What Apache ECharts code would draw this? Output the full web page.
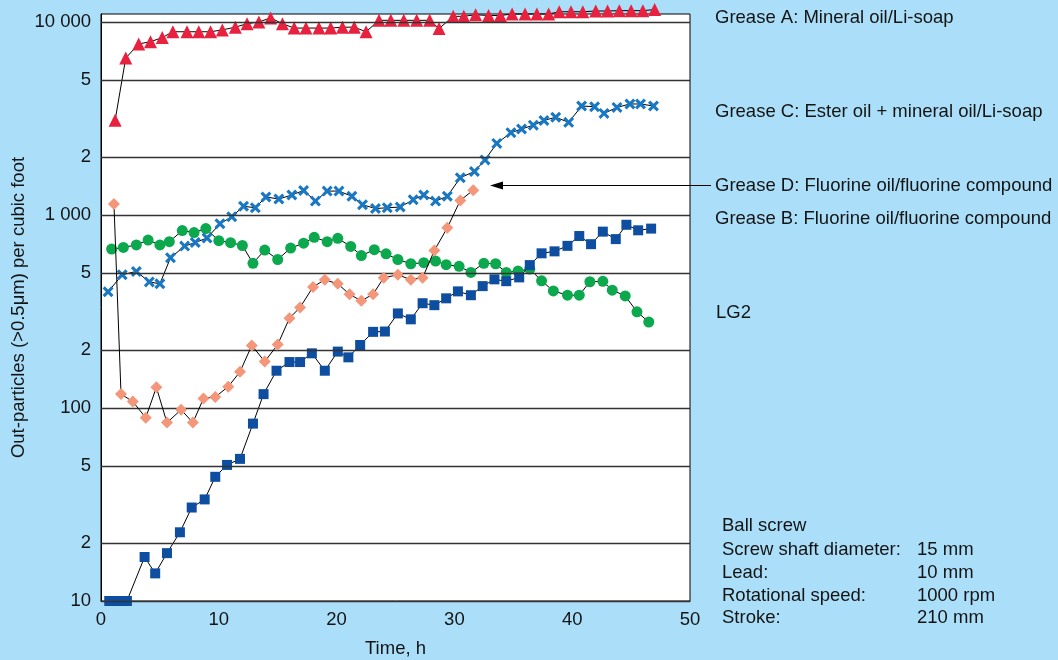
<!DOCTYPE html>
<html><head><meta charset="utf-8">
<script src="https://cdn.jsdelivr.net/npm/echarts@6/dist/echarts.min.js"></script>
<style>html,body{margin:0;padding:0;background:#abdff9;}#c{width:1058px;height:660px;}</style>
</head><body><div id="c"></div>
<script>
// Grease A: Mineral oil/Li-soap
const tA = [1.2,2.1,3.2,4.2,5.2,6.1,7.3,8.3,9.3,10.3,11.4,12.4,13.4,14.4,15.4,16.4,17.4,18.5,19.5,20.5,21.5,22.5,23.6,24.6,25.7,26.8,27.9,28.7,29.9,30.8,31.8,32.9,33.9,34.9,36.0,37.0,38.0,38.9,39.9,40.9,42.0,43.0,44.0,45.0,46.0,47.0];
const vA = [3100,6500,7700,7900,8300,8900,8900,8900,8900,9100,9400,9800,10000,10500,9800,9300,9300,9300,9300,9400,9400,8900,10200,10200,10200,10200,10200,9250,10700,10700,10900,10800,10800,11000,11000,11000,11000,11300,11300,11300,11400,11400,11450,11450,11450,11600];
// Grease C: Ester oil + mineral oil/Li-soap
const tC = [0.6,1.8,3.0,4.1,5.0,5.9,7.1,8.0,9.0,10.1,11.1,12.1,13.1,14.0,15.1,16.2,17.2,18.2,19.2,20.2,21.3,22.2,23.3,24.3,25.4,26.5,27.4,28.4,29.4,30.5,31.7,32.6,33.6,34.8,35.7,36.7,37.6,38.6,39.7,40.8,41.9,42.7,43.8,44.9,45.8,46.9];
const vC = [400,490,510,450,440,600,690,720,760,900,980,1110,1090,1240,1210,1270,1340,1180,1330,1330,1250,1130,1080,1090,1100,1200,1270,1180,1250,1560,1680,1930,2350,2670,2790,2920,3090,3210,3020,3670,3640,3360,3610,3760,3760,3670];
// Grease D: Fluorine oil/fluorine compound
const tD = [1.1,1.7,2.7,3.8,4.7,5.6,6.8,7.8,8.7,9.7,10.8,11.8,12.8,13.9,15.0,16.0,16.9,18.0,19.0,20.1,21.1,22.1,23.1,24.0,25.2,26.3,27.3,28.3,29.4,30.5,31.6];
const vD = [1140,118,108,89,128,84,98,84,112,114,129,154,211,174,213,292,332,424,462,440,388,359,389,473,490,462,473,655,859,1190,1345];
// Grease B: Fluorine oil/fluorine compound
const tB = [0.9,1.9,3.0,4.0,5.0,5.8,6.9,7.9,8.9,10.0,11.0,12.0,12.9,13.9,15.0,16.1,17.2,18.1,19.2,20.1,21.2,22.1,23.2,24.2,25.2,26.3,27.4,28.4,29.3,30.4,31.4,32.5,33.5,34.4,35.4,36.4,37.4,38.4,39.6,40.6,41.5,42.6,43.4,44.5,45.5,46.5];
const vB = [666,679,700,741,700,727,830,811,850,736,719,695,562,658,588,674,714,766,727,757,687,616,661,629,588,559,566,577,553,542,504,562,559,504,512,525,456,404,384,384,451,453,408,381,315,279];
// LG2
const tL = [0.7,1.5,2.2,3.7,4.6,5.6,6.7,7.7,8.8,9.7,10.7,11.8,12.9,13.8,14.9,16.0,16.9,17.9,19.0,20.1,21.0,22.0,23.1,24.1,25.2,26.3,27.3,28.3,29.3,30.3,31.4,32.4,33.4,34.4,35.5,36.4,37.4,38.5,39.6,40.6,41.6,42.6,43.7,44.6,45.6,46.7];
const vL = [10,10,10,16.9,13.9,17.7,22.7,30.5,33.6,44,50.7,54.5,83,118,156,173,173,192,156,196,183,212,248,249,309,288,349,341,370,402,384,428,464,454,475,550,633,648,692,778,706,820,750,890,833,850];

// y tick values and labels
const yTickValues = [10,20,50,100,200,500,1000,2000,5000,10000];
const yTickLabels = ['10','2','5','100','2','5','1 000','2','5','10 000'];

const seriesNames = ['Grease A: Mineral oil/Li-soap','Grease C: Ester oil + mineral oil/Li-soap','Grease D: Fluorine oil/fluorine compound','Grease B: Fluorine oil/fluorine compound','LG2'];

const FONT = "'Liberation Sans', Arial, sans-serif";
const FS = 18.5;
const TXT = '#141414';

function pairs(t, v){ return t.map((x,i)=>[x, v[i]]); }
const xPath = 'path://M0,2 L2,0 L5,3 L8,0 L10,2 L7,5 L10,8 L8,10 L5,7 L2,10 L0,8 L3,5 Z';

function mk(name, t, v, symbol, size, color, z){
  return {name, type:'line', data:pairs(t,v), symbol, symbolSize:size, showSymbol:true,
    clip:false, z, itemStyle:{color, opacity:1}, lineStyle:{color:'#000', width:1},
    emphasis:{disabled:true}};
}

const chart = echarts.init(document.getElementById('c'), null, {renderer:'canvas'});
chart.setOption({
  animation:false,
  backgroundColor:'#abdff9',
  grid:{left:101, right:368, top:14, bottom:59, outerBoundsMode:'none', containLabel:false,
    show:true, backgroundColor:'#fff', borderColor:'#000', borderWidth:1},
  xAxis:{type:'value', min:0, max:50, interval:10,
    axisLine:{show:true, lineStyle:{color:'#000', width:1}}, axisTick:{show:false}, splitLine:{show:false},
    axisLabel:{fontFamily:FONT, fontSize:FS, color:TXT, margin:9},
    name:'Time, h', nameLocation:'middle', nameGap:38, nameTextStyle:{fontFamily:FONT, fontSize:FS, color:TXT}},
  yAxis:{type:'log', logBase:10, min:10, max:11000,
    axisLine:{show:true, lineStyle:{color:'#000', width:1}}, axisTick:{show:false}, splitLine:{show:false},
    axisLabel:{show:false},
    name:'Out-particles (>0.5μm) per cubic foot', nameLocation:'middle', nameRotate:90, nameGap:73,
    nameTextStyle:{fontFamily:FONT, fontSize:FS, color:TXT}},
  series:[
    {type:'line', data:[], z:1, silent:true,
      markLine:{silent:true, symbol:['none','none'], animation:false,
        lineStyle:{type:'solid', color:'#333', width:1.3},
        label:{show:true, position:'start', formatter:'{b}', fontFamily:FONT, fontSize:FS, color:TXT, distance:10},
        emphasis:{disabled:true},
        data: yTickValues.map((v,i)=>({yAxis:v, name:yTickLabels[i]}))}},
    mk(seriesNames[0], tA, vA, 'triangle', 13, '#e8213f', 3),
    mk(seriesNames[1], tC, vC, xPath, 11, '#1a78c2', 4),
    mk(seriesNames[2], tD, vD, 'diamond', 12, '#f4967a', 5),
    mk(seriesNames[3], tB, vB, 'circle', 11, '#0ca84e', 3),
    mk(seriesNames[4], tL, vL, 'rect', 10, '#0e4ea0', 4)
  ],
  graphic:[
    {type:'text', left:715, top:8, style:{text:seriesNames[0], font:`${FS}px ${FONT}`, fill:TXT}},
    {type:'text', left:715, top:102, style:{text:seriesNames[1], font:`${FS}px ${FONT}`, fill:TXT}},
    {type:'text', left:715, top:176, style:{text:seriesNames[2], font:`${FS}px ${FONT}`, fill:TXT}},
    {type:'text', left:715, top:209, style:{text:seriesNames[3], font:`${FS}px ${FONT}`, fill:TXT}},
    {type:'text', left:716, top:303, style:{text:seriesNames[4], font:`${FS}px ${FONT}`, fill:TXT}},
    {type:'line', shape:{x1:711, y1:185.5, x2:500, y2:185.5}, style:{stroke:'#000', lineWidth:1.2}, z:10},
    {type:'polygon', shape:{points:[[490,185.5],[503,181.5],[503,189.5]]}, style:{fill:'#000'}, z:10},
    {type:'text', left:722, top:516, style:{text:'Ball screw', font:`${FS}px ${FONT}`, fill:TXT}},
    {type:'text', left:722, top:540, style:{text:'Screw shaft diameter:', font:`${FS}px ${FONT}`, fill:TXT}},
    {type:'text', left:722, top:563, style:{text:'Lead:', font:`${FS}px ${FONT}`, fill:TXT}},
    {type:'text', left:722, top:586, style:{text:'Rotational speed:', font:`${FS}px ${FONT}`, fill:TXT}},
    {type:'text', left:722, top:608, style:{text:'Stroke:', font:`${FS}px ${FONT}`, fill:TXT}},
    {type:'text', left:917, top:540, style:{text:'15 mm', font:`${FS}px ${FONT}`, fill:TXT}},
    {type:'text', left:917, top:563, style:{text:'10 mm', font:`${FS}px ${FONT}`, fill:TXT}},
    {type:'text', left:917, top:586, style:{text:'1000 rpm', font:`${FS}px ${FONT}`, fill:TXT}},
    {type:'text', left:917, top:608, style:{text:'210 mm', font:`${FS}px ${FONT}`, fill:TXT}}
  ]
});
</script>
</body></html>
